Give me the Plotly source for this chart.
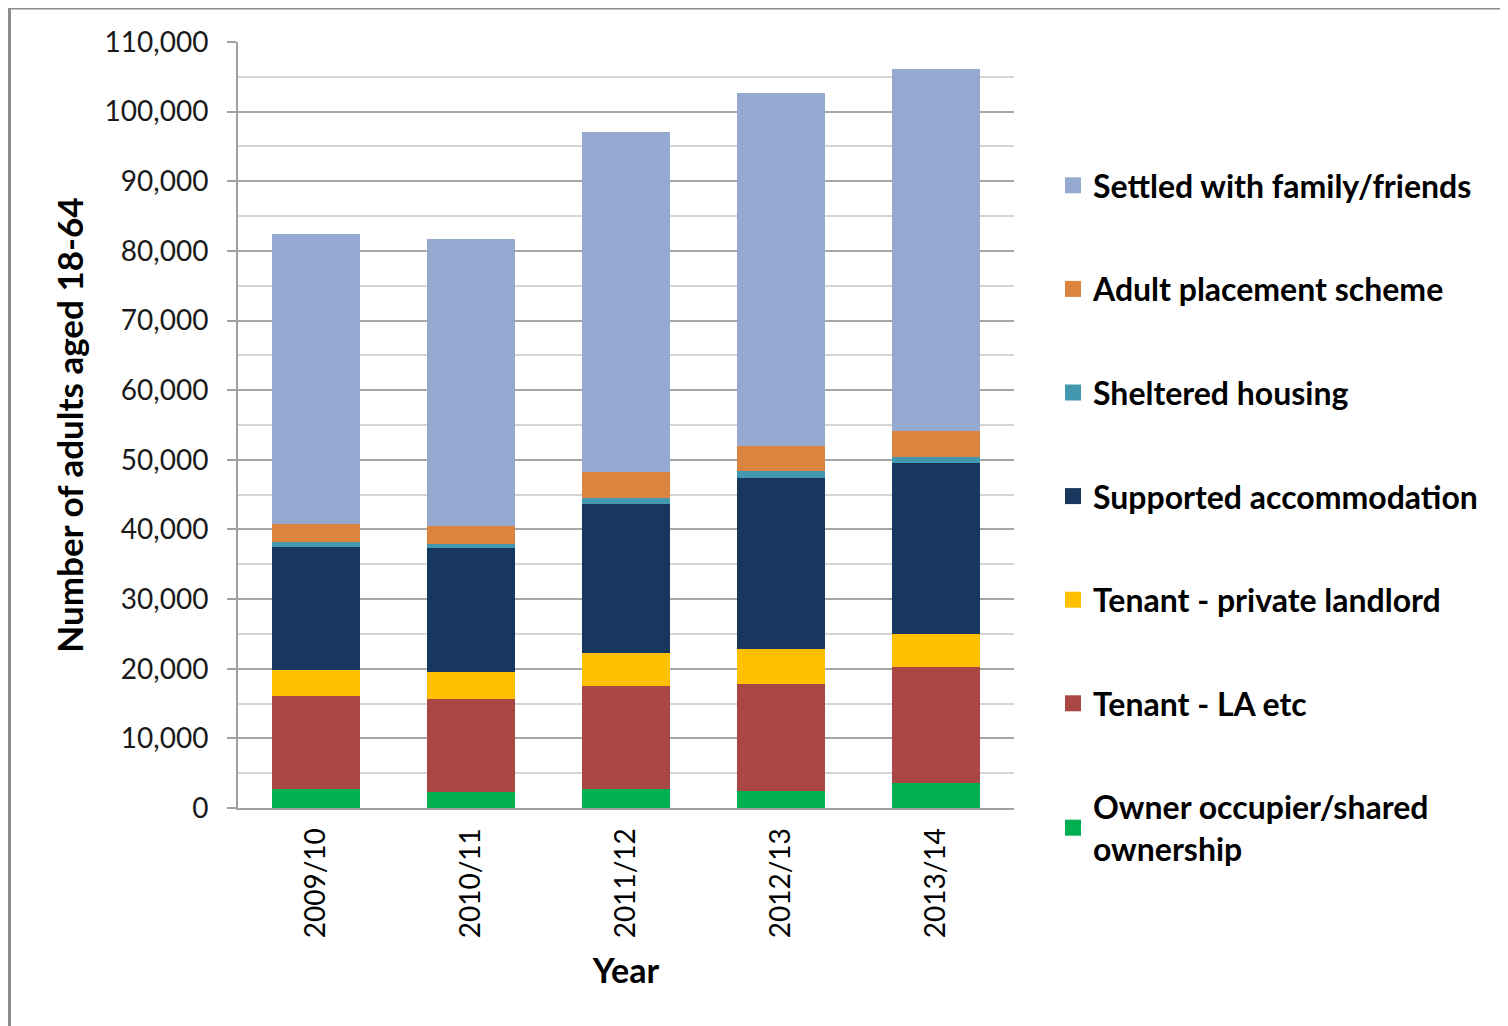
import plotly.graph_objects as go

years = ["2009/10", "2010/11", "2011/12", "2012/13", "2013/14"]

owner_occupier = [2730, 2240, 2730, 2490, 3590]
tenant_la = [13360, 13420, 14840, 15330, 16610]
tenant_private = [3740, 3880, 4630, 5020, 4840]
supported_accommodation = [17710, 17760, 21480, 24570, 24530]
sheltered_housing = [680, 630, 860, 1050, 900]
adult_placement = [2580, 2630, 3680, 3550, 3730]
settled_family = [41690, 41210, 48880, 50700, 51940]

# stacking order, bottom to top
series = [
    ("Owner occupier/shared<br>ownership", owner_occupier, "#00B050"),
    ("Tenant - LA etc", tenant_la, "#AA4744"),
    ("Tenant - private landlord", tenant_private, "#FFC000"),
    ("Supported accommodation", supported_accommodation, "#17375E"),
    ("Sheltered housing", sheltered_housing, "#4398AF"),
    ("Adult placement scheme", adult_placement, "#DA843F"),
    ("Settled with family/friends", settled_family, "#95A9D1"),
]

y_ticks = list(range(0, 110001, 10000))
y_tick_text = [f"{v:,}" for v in y_ticks]

FONT = "Lato, 'Open Sans', sans-serif"

fig = go.Figure()

# legend entries (top to bottom), drawn as square markers
for i, (name, vals, color) in enumerate(reversed(series)):
    fig.add_trace(go.Scatter(
        x=[None], y=[None], mode="markers", name=name,
        marker=dict(symbol="square", size=16, color=color),
        legendgroup=f"g{i}", showlegend=True, hoverinfo="skip",
    ))

for name, vals, color in series:
    fig.add_trace(go.Bar(
        x=years, y=vals, name=name.replace("<br>", " "),
        marker=dict(color=color, line=dict(width=0)),
        showlegend=False,
    ))

# page offset of 8px (body margin)
W, H = 1500, 1018
L, T = 238 - 8, 42 - 8
R = W - (1014 - 8)
B = H - (808 - 8)
pw, ph = W - L - R, H - T - B

leg_top = 150  # figure px

fig.update_layout(
    width=W, height=H,
    barmode="stack",
    bargap=0.433,
    plot_bgcolor="white",
    paper_bgcolor="white",
    margin=dict(l=L, r=R, t=T, b=B, autoexpand=False),
    font=dict(family=FONT, color="#000000"),
    showlegend=True,
    legend=dict(
        x=(1045 - L) / pw, y=1 - (leg_top - T) / ph,
        xanchor="left", yanchor="top",
        traceorder="grouped",
        tracegroupgap=59,
        font=dict(family=FONT, size=32, color="#000000", weight="bold"),
        bgcolor="rgba(0,0,0,0)",
        itemclick=False, itemdoubleclick=False,
    ),
    xaxis=dict(
        type="category", categoryorder="array", categoryarray=years,
        showline=True, linecolor="#A0A0A0", linewidth=2,
        ticks="", tickangle=-90,
        tickfont=dict(family=FONT, size=28, color="#000000"),
        ticklabelstandoff=7,
        title=dict(text="Year", font=dict(family=FONT, size=34, color="#000000", weight="bold"), standoff=22),
        automargin=False,
    ),
    yaxis=dict(
        range=[0, 110000],
        tickvals=y_ticks, ticktext=y_tick_text,
        showline=True, linecolor="#A0A0A0", linewidth=2,
        ticks="outside", ticklen=9, tickcolor="#A0A0A0", tickwidth=2,
        ticklabelstandoff=13,
        tickfont=dict(family=FONT, size=28, color="#1a1a1a"),
        showgrid=True, gridcolor="#A6A6A6", gridwidth=2,
        zeroline=False,
        minor=dict(dtick=5000, tick0=0, showgrid=True, gridcolor="#D4D4D4", gridwidth=2, ticks=""),
        title=dict(text="Number of adults aged 18-64", font=dict(family=FONT, size=35, color="#000000", weight="bold"), standoff=10),
        automargin=False,
    ),
    shapes=[dict(
        type="rect", xref="paper", yref="paper",
        x0=(1.5 - L) / pw, x1=(1540 - L) / pw,
        y0=1 - (1060 - T) / ph, y1=1 - (0 - T) / ph,
        line=dict(color="#8C8C8C", width=3), fillcolor="rgba(0,0,0,0)", layer="below",
    )],
)

fig.write_html("out.html")
